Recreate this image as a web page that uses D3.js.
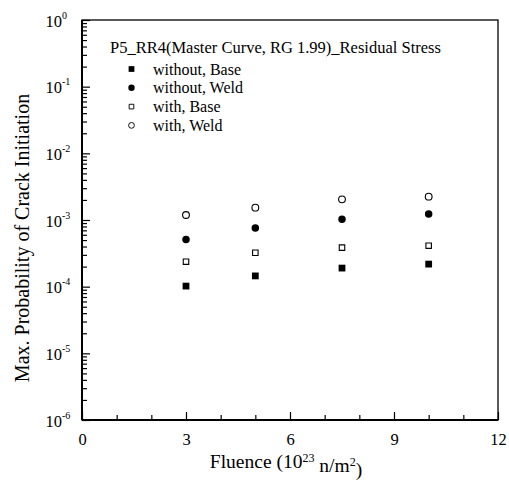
<!DOCTYPE html>
<html>
<head>
<meta charset="utf-8">
<script src="https://cdn.jsdelivr.net/npm/d3@7"></script>
<style>
    body { margin: 0; background: #fff; overflow: hidden; }
    svg { display: block; font-family: "Liberation Serif", "Times New Roman", serif; }
</style>
</head>
<body>
<div id="chart"></div>
<script>
const fluence = [3, 5, 7.5, 10];
const withoutBase = [1.02e-4, 1.45e-4, 1.9e-4, 2.18e-4];
const withoutWeld = [5.1e-4, 7.6e-4, 1.03e-3, 1.23e-3];
const withBase = [2.37e-4, 3.23e-4, 3.85e-4, 4.12e-4];
const withWeld = [1.19e-3, 1.53e-3, 2.04e-3, 2.24e-3];

const seriesNames = ["without, Base", "without, Weld", "with, Base", "with, Weld"];
const legendTitle = "P5_RR4(Master Curve, RG 1.99)_Residual Stress";
const xMajorTicks = [0, 3, 6, 9, 12];
const yExponents = [0, -1, -2, -3, -4, -5, -6];

const width = 509, height = 480;
const margin = {top: 20, right: 11, bottom: 60, left: 82};
const innerWidth = width - margin.left - margin.right;
const innerHeight = height - margin.top - margin.bottom;

const svg = d3.select("#chart").append("svg")
    .attr("width", width)
    .attr("height", height);

const chart = svg.append("g")
    .attr("transform", `translate(${margin.left}, ${margin.top})`);

const x = d3.scaleLinear().domain([0, 12]).range([0, innerWidth]);
const y = d3.scaleLog().domain([1e-6, 1]).range([innerHeight, 0]);

// minor ticks first, majors on top
const xMinor = d3.range(0, 13).filter(d => d % 3 !== 0);
chart.append("g")
    .attr("class", "axis minor")
    .attr("transform", `translate(0, ${innerHeight})`)
    .call(d3.axisBottom(x).tickValues(xMinor).tickSize(-5).tickFormat(""));

chart.append("g")
    .attr("class", "axis")
    .attr("transform", `translate(0, ${innerHeight})`)
    .call(d3.axisBottom(x).tickValues(xMajorTicks).tickSize(-8).tickPadding(13).tickFormat(d3.format("d")));

const yMinor = [];
for (let e = -6; e < 0; e++) {
    for (let m = 2; m <= 9; m++) yMinor.push(m * Math.pow(10, e));
}
chart.append("g")
    .attr("class", "axis minor")
    .call(d3.axisLeft(y).tickValues(yMinor).tickSize(-5).tickFormat(""));

const yAxisG = chart.append("g")
    .attr("class", "axis")
    .call(d3.axisLeft(y).tickValues(yExponents.map(e => Math.pow(10, e))).tickSize(-8).tickFormat(""));

chart.selectAll(".minor text").remove();
yAxisG.selectAll(".tick text").remove();

// "10" with a superscript exponent, as two texts per tick
yAxisG.selectAll(".tick").each(function (d) {
    const tick = d3.select(this);
    const e = Math.round(Math.log10(d));
    tick.append("text")
        .attr("class", "base")
        .attr("x", -20).attr("y", 6)
        .attr("text-anchor", "end")
        .text("10");
    tick.append("text")
        .attr("class", "exp")
        .attr("x", -20).attr("y", -2)
        .attr("text-anchor", "start")
        .text(e === 0 ? "0" : "-" + (-e));
});

chart.selectAll(".axis path").style("display", "none");
chart.selectAll(".axis line").attr("stroke", "#000").attr("stroke-width", 1.2);
chart.selectAll(".axis text").attr("fill", "#000").style("font-size", "16.5px").style("font-family", "Liberation Serif");
chart.selectAll(".axis text.exp").style("font-size", "10px");

// frame
chart.append("rect")
    .attr("x", 0).attr("y", 0)
    .attr("width", innerWidth).attr("height", innerHeight)
    .attr("fill", "none").attr("stroke", "#000").attr("stroke-width", 1.3);
chart.append("line")
    .attr("x1", 0).attr("x2", 0).attr("y1", 0).attr("y2", innerHeight)
    .attr("stroke", "#000").attr("stroke-width", 2);
chart.append("line")
    .attr("x1", 0).attr("x2", innerWidth).attr("y1", innerHeight).attr("y2", innerHeight)
    .attr("stroke", "#000").attr("stroke-width", 2);

// markers
const square = d3.symbol().type(d3.symbolSquare);
const circle = d3.symbol().type(d3.symbolCircle);
const styles = [
    {values: withoutBase, sym: square.size(46)(), fill: "#000", stroke: "none"},
    {values: withoutWeld, sym: circle.size(44)(), fill: "#000", stroke: "none"},
    {values: withBase, sym: square.size(30)(), fill: "#fff", stroke: "#000"},
    {values: withWeld, sym: circle.size(36)(), fill: "#fff", stroke: "#000"}
];

styles.forEach(s => {
    chart.append("g")
        .selectAll("path")
        .data(fluence.map((f, j) => ({x: f, v: s.values[j]})))
        .enter().append("path")
        .attr("d", s.sym)
        .attr("transform", d => `translate(${x(d.x)}, ${y(d.v)})`)
        .attr("fill", s.fill)
        .attr("stroke", s.stroke)
        .attr("stroke-width", 1.1);
});

// legend
const legend = svg.append("g");
legend.append("text")
    .attr("x", 110).attr("y", 53)
    .style("font-size", "16.5px")
    .text(legendTitle);
seriesNames.forEach((name, i) => {
    const ly = 69 + i * 18.8;
    legend.append("path")
        .attr("d", styles[i].sym)
        .attr("transform", `translate(131.5, ${ly}) scale(0.85)`)
        .attr("fill", styles[i].fill)
        .attr("stroke", styles[i].stroke)
        .attr("stroke-width", 1.1);
    legend.append("text")
        .attr("x", 153).attr("y", ly + 5.5)
        .style("font-size", "16px")
        .text(name);
});

// axis titles
svg.append("text")
    .attr("transform", `translate(29, 238) rotate(-90)`)
    .attr("text-anchor", "middle")
    .style("font-size", "20px")
    .text("Max. Probability of Crack Initiation");

const xt = svg.append("text")
    .attr("x", 286).attr("y", 468)
    .attr("text-anchor", "middle")
    .style("font-size", "19.5px");
xt.append("tspan").text("Fluence (10");
xt.append("tspan").attr("dy", "-0.5em").style("font-size", "12px").text("23");
xt.append("tspan").attr("dy", "0.5em").text(" n/m");
xt.append("tspan").attr("dy", "-0.5em").style("font-size", "12px").text("2");
xt.append("tspan").attr("dy", "0.5em").text(")");
</script>
</body>
</html>
